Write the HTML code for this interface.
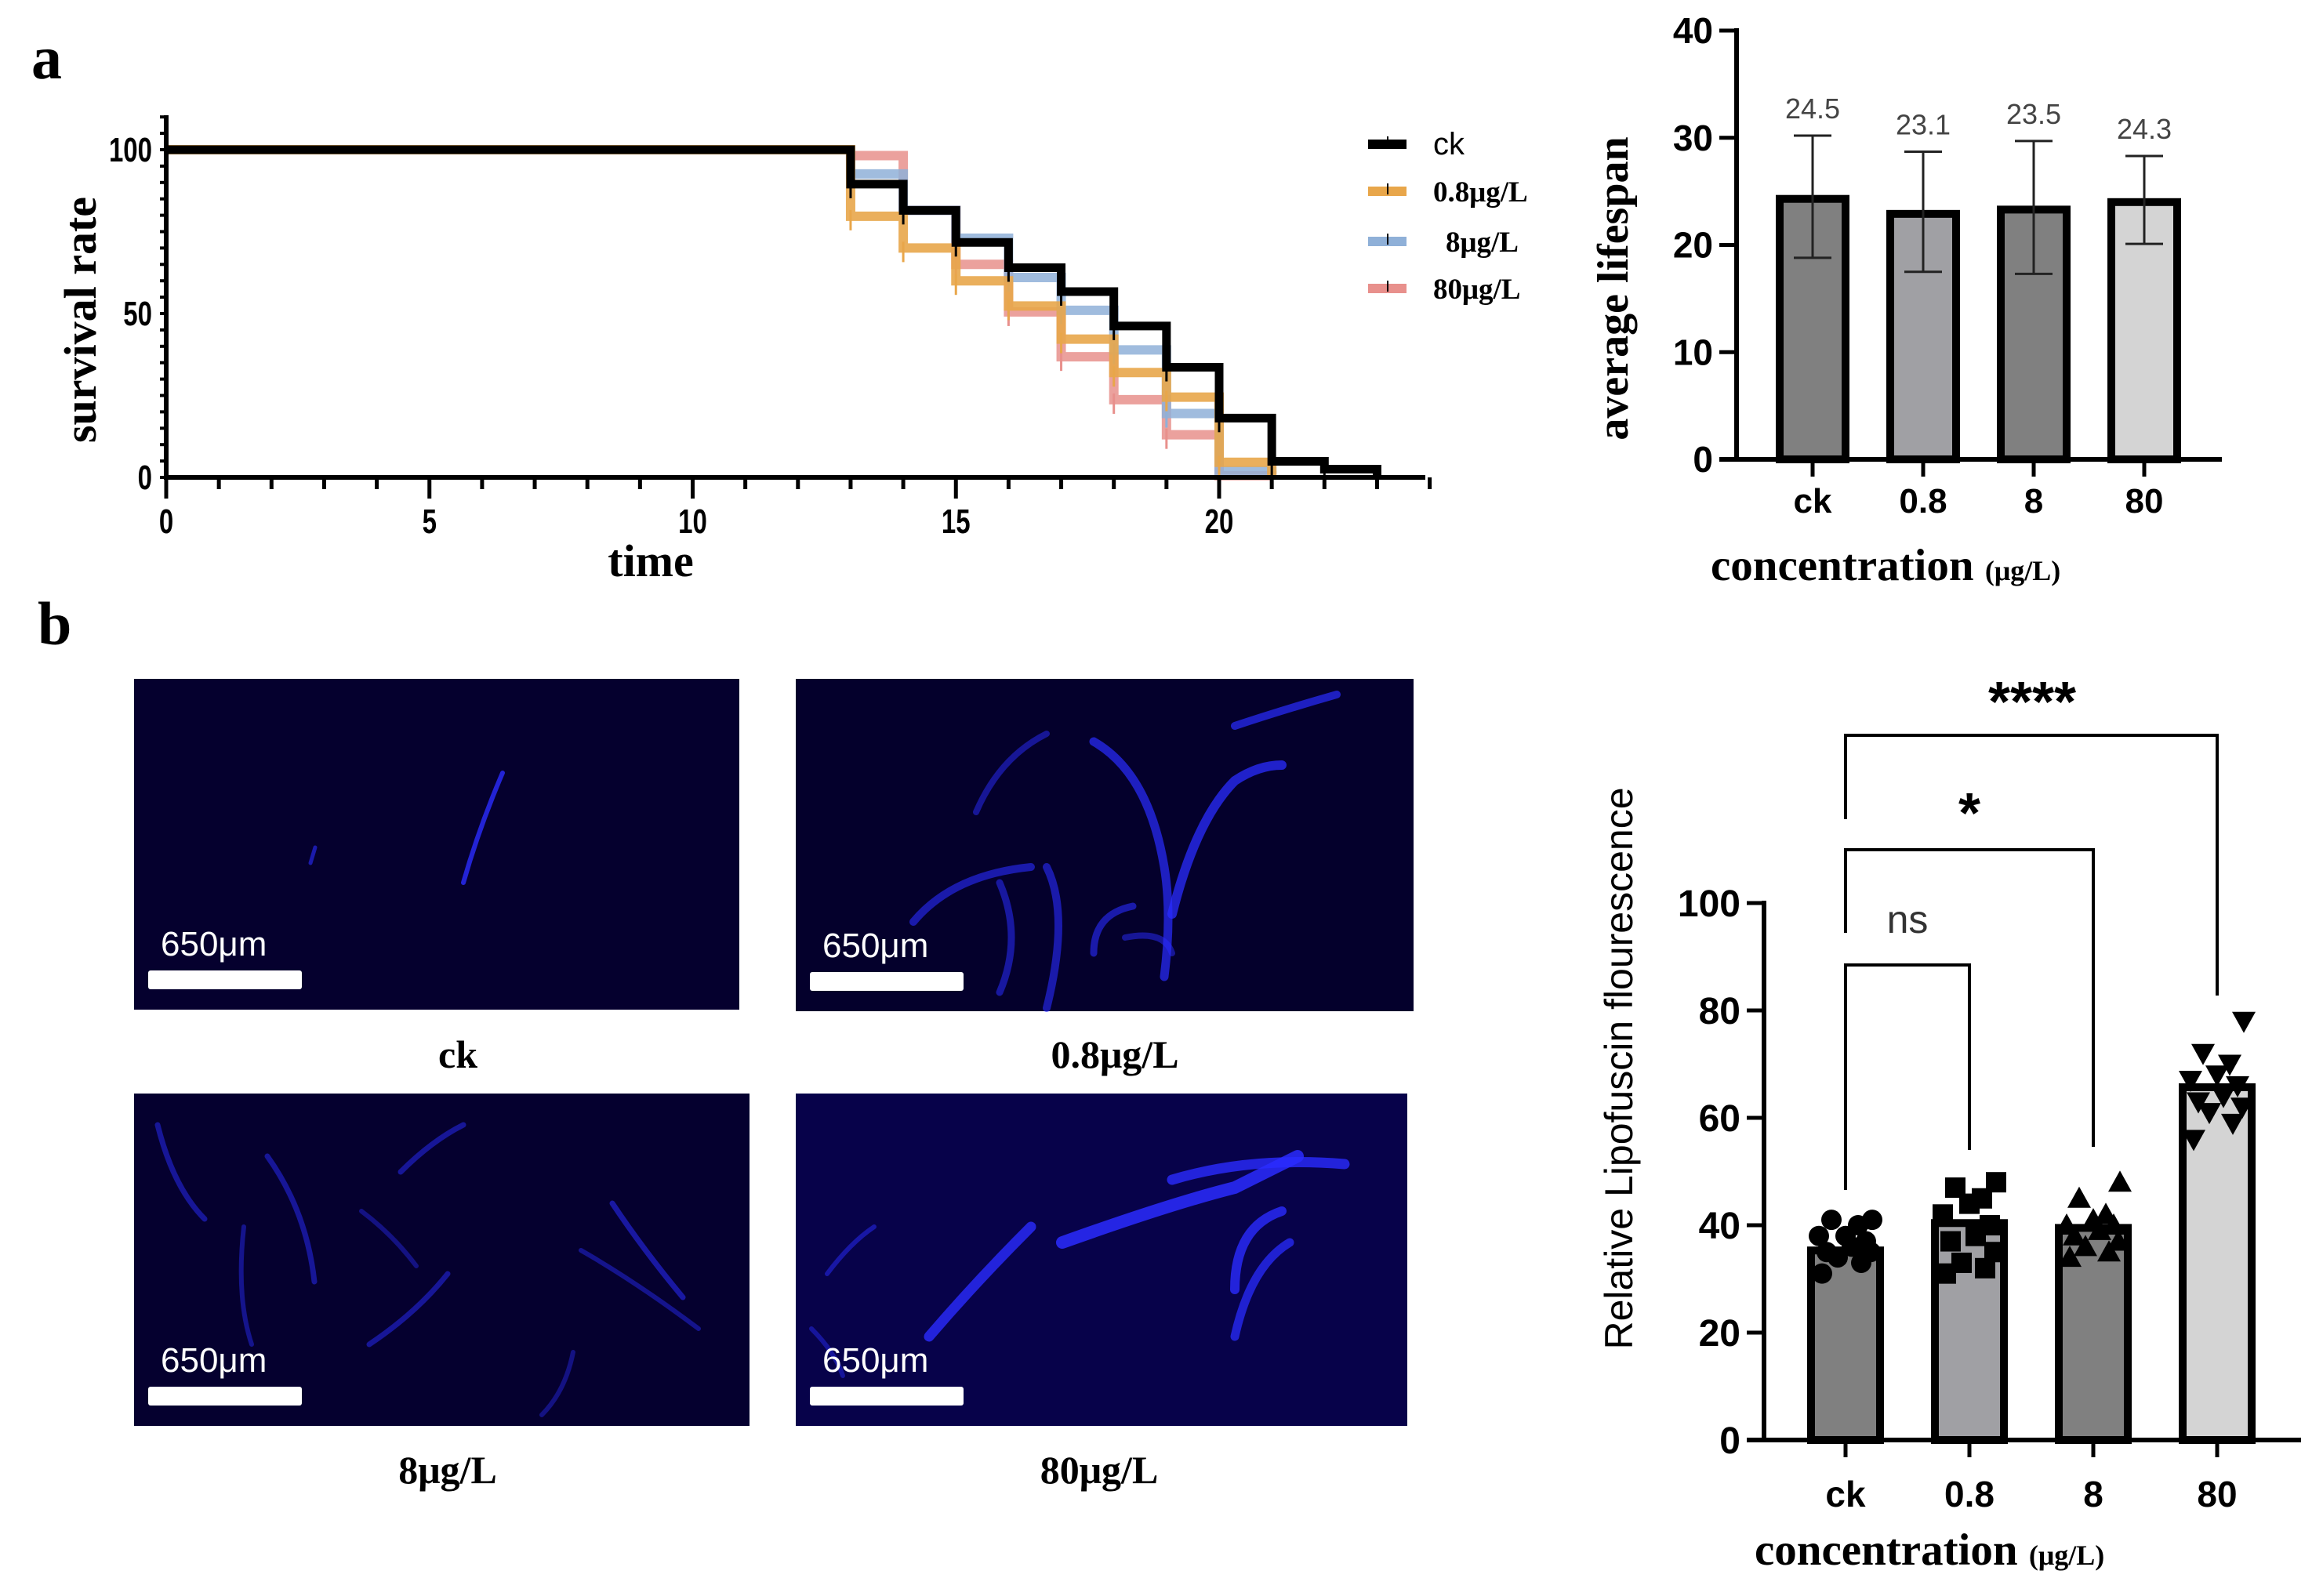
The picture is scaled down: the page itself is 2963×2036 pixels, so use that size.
<!DOCTYPE html>
<html><head><meta charset="utf-8"><style>
html,body{margin:0;padding:0;background:#fff;}
svg{display:block;}
.serif{font-family:"Liberation Serif",serif;font-weight:bold;}
.sans{font-family:"Liberation Sans",sans-serif;font-weight:bold;}
</style></head><body>
<svg id="fig" width="2963" height="2036" viewBox="0 0 2963 2036" xmlns="http://www.w3.org/2000/svg">
<text x="40" y="100" class="serif" font-size="78">a</text>
<text x="48" y="822" class="serif" font-size="78">b</text>
<g id="surv"></g>
<g id="life"></g>
<g id="lipo"></g>
<g id="imgs"></g>
</svg>
<script>
// ---------- survival data ----------
const survTimes = [13,14,15,16,17,18,19,20,21,22];
const survCk  = [89.5,81.5,71.7,64,56.7,46.2,33.6,18.1,4.9,2.5];
const surv08  = [79.7,70,60,52.3,42.2,32,24.5,4.6];
const surv8   = [92.6,81.5,73,61,51,38.9,19.5,2];
const surv80  = [98.2,81.5,65,50.5,36.8,23.7,13,0.5];
const survXTicks = [0,5,10,15,20];
const survYTicks = [0,50,100];
// ---------- lifespan data ----------
const lifeCats = ["ck","0.8","8","80"];
const lifeMeans = [24.5,23.1,23.5,24.3];
const lifeHeights = [24.3,22.9,23.3,24.0];
const lifeErrHi = [30.2,28.7,29.7,28.3];
const lifeErrLo = [18.8,17.5,17.3,20.1];
const lifeYTicks = [0,10,20,30,40];
// ---------- lipofuscin data ----------
const lipoCats = ["ck","0.8","8","80"];
const lipoMeans = [35.3,40.4,39.5,65.7];
const lipoPts = [
 [31,33,34,35,35,36,37,38,38,40,41,41],
 [31,32,33,35,37,38,40,42,44,45,47,48],
 [34,35,36,37,38,39,40,40,41,42,45,48],
 [56,59,61,62,63,64,66,67,68,70,72,78]];
const lipoYTicks = [0,20,40,60,80,100];

const NS="http://www.w3.org/2000/svg";
function mk(parent,tag,attrs,text){const e=document.createElementNS(NS,tag);for(const k in attrs)e.setAttribute(k,attrs[k]);if(text!==undefined)e.textContent=text;parent.appendChild(e);return e;}

// ===== Survival chart =====
(function(){
 const g=document.getElementById('surv');
 const sx=t=>212+t*(1555-212)/20, sy=v=>609-v*(609-191)/100;
 function series(vals,col,w,op,name){
  let d=`M${sx(0)},${sy(100)} L${sx(13)},${sy(100)}`;
  vals.forEach((v,i)=>{const t=13+i;d+=` L${sx(t)},${sy(v)} L${sx(t+1)},${sy(v)}`;});
  d+=` L${sx(13+vals.length)},${sy(0)}`;
  const p=mk(g,'path',{d:d,fill:'none',stroke:col,'stroke-width':w,'stroke-opacity':op});
  
  
  vals.forEach((v,i)=>{const t=13+i;const e=mk(g,'line',{x1:sx(t),x2:sx(t),y1:sy(v)-8,y2:sy(v)+18,stroke:col,'stroke-width':3});
   
   });
 }
 series(surv80,'#e8908c',12,0.85,'series-80');
 series(surv8,'#8fb0d8',12,0.85,'series-8');
 series(surv08,'#e8a64a',12,0.9,'series-0-8');
 series(survCk,'#000',11,1,'series-ck');
 mk(g,'line',{x1:212,y1:147,x2:212,y2:612,stroke:'#000','stroke-width':6});
 mk(g,'line',{x1:209,y1:609,x2:1818,y2:609,stroke:'#000','stroke-width':6});
 for(let t=0;t<=24;t++){const maj=t%5==0;mk(g,'line',{x1:sx(t),x2:sx(t),y1:609,y2:maj?636:624,stroke:'#000','stroke-width':5});}
 for(let v=0;v<=110;v+=5){mk(g,'line',{x1:204,x2:212,y1:sy(v),y2:sy(v),stroke:'#000','stroke-width':4});}
 survXTicks.forEach(t=>{const e=mk(g,'text',{x:sx(t),y:680,'text-anchor':'middle','font-size':44,class:'sans',transform:`translate(${sx(t)},0) scale(0.75,1) translate(${-sx(t)},0)`},String(t));
  
  });
 survYTicks.forEach(v=>{const e=mk(g,'text',{x:194,y:sy(v)+15,'text-anchor':'end','font-size':44,class:'sans',transform:`translate(194,0) scale(0.75,1) translate(-194,0)`},String(v));
  
  });
 let e=mk(g,'text',{x:830,y:735,'text-anchor':'middle','font-size':58,class:'serif'},'time');
 
 e=mk(g,'text',{x:0,y:0,'text-anchor':'middle','font-size':58,class:'serif',transform:'translate(122,408) rotate(-90)'},'survival rate');
 
 const leg=[['ck','#000',184],['0.8μg/L','#e8a64a',244],['8μg/L','#8fb0d8',308],['80μg/L','#e8908c',368]];
 leg.forEach(l=>{
  const gg=mk(g,'g',{});
  
  
  mk(gg,'line',{x1:1745,x2:1794,y1:l[2],y2:l[2],stroke:l[1],'stroke-width':12});
  mk(gg,'line',{x1:1770,x2:1770,y1:l[2]-10,y2:l[2]+4,stroke:'#000','stroke-width':2});
  if(l[0]==='ck') mk(gg,'text',{x:1828,y:l[2]+13,'font-size':40,'font-family':'Liberation Sans, sans-serif'},l[0]);
  else mk(gg,'text',{x:l[0]==='8μg/L'?1844:1828,y:l[2]+13,'font-size':37,class:'serif'},l[0]);
 });
})();

// ===== Lifespan chart =====
(function(){
 const g=document.getElementById('life');
 const x0=2215, y0=586, ppu=(586-39)/40;
 const sy=v=>y0-v*ppu, cx=i=>2312+i*141;
 const fills=['#808080','#a0a0a4','#808080','#d4d4d4'];
 lifeCats.forEach((c,i)=>{
  const r=mk(g,'rect',{x:cx(i)-42,y:sy(lifeHeights[i]),width:84,height:y0-sy(lifeHeights[i]),fill:fills[i],stroke:'#000','stroke-width':10});
  
  
  const eb=mk(g,'path',{d:`M${cx(i)},${sy(lifeErrHi[i])} V${sy(lifeErrLo[i])} M${cx(i)-24},${sy(lifeErrHi[i])} h48 M${cx(i)-24},${sy(lifeErrLo[i])} h48`,stroke:'#222','stroke-width':3,fill:'none'});
  
  
  const t=mk(g,'text',{x:cx(i),y:sy(lifeErrHi[i])-22,'text-anchor':'middle','font-size':36,'font-family':'Liberation Sans, sans-serif',fill:'#444'},lifeMeans[i].toFixed(1));
  
  
  mk(g,'line',{x1:cx(i),x2:cx(i),y1:y0,y2:y0+22,stroke:'#000','stroke-width':5});
  const tl=mk(g,'text',{x:cx(i),y:654,'text-anchor':'middle','font-size':44,class:'sans'},c);
  
  
 });
 mk(g,'line',{x1:x0,y1:36,x2:x0,y2:y0+3,stroke:'#000','stroke-width':6});
 mk(g,'line',{x1:x0-22,y1:y0,x2:2834,y2:y0,stroke:'#000','stroke-width':6});
 lifeYTicks.forEach(v=>{mk(g,'line',{x1:x0-22,x2:x0,y1:sy(v),y2:sy(v),stroke:'#000','stroke-width':5});
  const t=mk(g,'text',{x:x0-30,y:sy(v)+16,'text-anchor':'end','font-size':46,class:'sans'},String(v));
  
  });
 let e=mk(g,'text',{x:0,y:0,'text-anchor':'middle','font-size':56,class:'serif',transform:'translate(2076,368) rotate(-90)'},'average lifespan');
 
 e=mk(g,'text',{x:2182,y:740,'font-size':57,class:'serif'});
 e.innerHTML='concentration <tspan font-size="36">(μg/L)</tspan>';
 
})();

// ===== Lipofuscin chart =====
(function(){
 const g=document.getElementById('lipo');
 const x0=2250, y0=1837, ppu=(1837-1152)/100;
 const sy=v=>y0-v*ppu, cx=i=>2354+i*158;
 const fills=['#808080','#a0a0a4','#808080','#d4d4d4'];
 const jit=[-30,20,-10,32,-24,8,26,-34,0,16,-18,34];
 lipoCats.forEach((c,i)=>{
  const r=mk(g,'rect',{x:cx(i)-44,y:sy(lipoMeans[i]),width:88,height:y0-sy(lipoMeans[i]),fill:fills[i],stroke:'#000','stroke-width':10});
  
  
  lipoPts[i].forEach((v,k)=>{
   const px=cx(i)+jit[k], py=sy(v); let p;
   if(i===0) p=mk(g,'circle',{cx:px,cy:py,r:13,fill:'#000'});
   else if(i===1) p=mk(g,'rect',{x:px-13,y:py-13,width:26,height:26,fill:'#000'});
   else if(i===2) p=mk(g,'path',{d:`M${px},${py-15} L${px+15},${py+12} L${px-15},${py+12}Z`,fill:'#000'});
   else p=mk(g,'path',{d:`M${px},${py+15} L${px+15},${py-12} L${px-15},${py-12}Z`,fill:'#000'});
   
   
  });
  mk(g,'line',{x1:cx(i),x2:cx(i),y1:y0,y2:y0+22,stroke:'#000','stroke-width':5});
  const tl=mk(g,'text',{x:cx(i),y:1922,'text-anchor':'middle','font-size':46,class:'sans'},c);
  
  
 });
 mk(g,'line',{x1:x0,y1:1149,x2:x0,y2:y0+3,stroke:'#000','stroke-width':6});
 mk(g,'line',{x1:x0-22,y1:y0,x2:2935,y2:y0,stroke:'#000','stroke-width':6});
 lipoYTicks.forEach(v=>{mk(g,'line',{x1:x0-22,x2:x0,y1:sy(v),y2:sy(v),stroke:'#000','stroke-width':5});
  const t=mk(g,'text',{x:x0-30,y:sy(v)+17,'text-anchor':'end','font-size':48,class:'sans'},String(v));
  
  });
 const br=[[cx(0),cx(1),1231,1518,1467,'ns',1190,2433],[cx(0),cx(2),1084,1190,1463,'*',1062,2512],[cx(0),cx(3),938,1045,1270,'****',920,2592]];
 br.forEach(b=>{const p=mk(g,'path',{d:`M${b[0]},${b[3]} V${b[2]} H${b[1]} V${b[4]}`,fill:'none',stroke:'#000','stroke-width':4});
  
  
  const t=mk(g,'text',{x:b[7],y:b[6],'text-anchor':'middle','font-size':b[5]==='ns'?50:72,'font-family':'Liberation Sans, sans-serif','font-weight':b[5]==='ns'?'normal':'bold',fill:b[5]==='ns'?'#333':'#000'},b[5]);
  
  });
 let e=mk(g,'text',{x:0,y:0,'text-anchor':'middle','font-size':50,'font-family':'Liberation Sans, sans-serif',transform:'translate(2082,1363) rotate(-90)'},'Relative Lipofuscin flourescence');
 
 e=mk(g,'text',{x:2238,y:1996,'font-size':57,class:'serif'});
 e.innerHTML='concentration <tspan font-size="36">(μg/L)</tspan>';
 
})();

// ===== Fluorescence images =====
(function(){
 const g=document.getElementById('imgs');
 const panels=[
  {x:171,y:866,w:772,h:422,bg:'#05002e',lab:'ck',lx:584,ly:1362,worms:[
   ['M420,260 Q440,190 470,120',6,0.8],['M225,235 l6,-20',5,0.6]]},
  {x:1015,y:866,w:788,h:424,bg:'#04002c',lab:'0.8μg/L',lx:1422,ly:1362,worms:[
   ['M380,80 Q450,120 470,240 Q480,300 470,380',11,0.7],['M480,300 Q510,180 560,130 Q590,110 620,110',12,0.75],
   ['M150,310 Q200,250 300,240',10,0.6],['M320,240 Q350,300 320,420',10,0.6],['M380,350 Q380,300 430,290',9,0.6],
   ['M560,60 Q620,40 690,20',10,0.7],['M260,400 Q290,330 260,260',9,0.55],['M230,170 Q260,100 320,70',8,0.5],
   ['M420,330 Q470,320 480,350',8,0.5]]},
  {x:171,y:1395,w:785,h:424,bg:'#05002f',lab:'8μg/L',lx:571,ly:1892,worms:[
   ['M30,40 Q50,120 90,160',7,0.5],['M170,80 Q220,150 230,240',7,0.5],['M140,170 Q130,260 150,320',6,0.45],
   ['M340,100 Q380,60 420,40',7,0.5],['M300,320 Q360,280 400,230',7,0.5],['M610,140 Q650,200 700,260',7,0.55],
   ['M570,200 Q640,240 720,300',6,0.45],['M560,330 Q550,380 520,410',6,0.4],['M290,150 Q330,180 360,220',6,0.4]]},
  {x:1015,y:1395,w:780,h:424,bg:'#07024a',lab:'80μg/L',lx:1402,ly:1892,worms:[
   ['M340,190 Q480,140 560,120 Q600,100 640,80',16,0.85],['M480,110 Q580,80 700,90',13,0.8],
   ['M170,310 Q230,240 300,170',13,0.8],['M560,250 Q560,170 620,150',12,0.8],['M560,310 Q580,220 630,190',11,0.75],
   ['M40,230 Q70,190 100,170',6,0.5],['M20,300 Q50,330 60,360',6,0.45]]}];
 panels.forEach(p=>{
  const gg=mk(g,'g',{transform:`translate(${p.x},${p.y})`});
  
  
  mk(gg,'rect',{x:0,y:0,width:p.w,height:p.h,fill:p.bg});
  p.worms.forEach(w=>mk(gg,'path',{d:w[0],fill:'none',stroke:'#2a2cff','stroke-width':w[1],'stroke-linecap':'round','stroke-opacity':w[2]}));
  const sb=mk(gg,'rect',{x:18,y:p.h-50,width:196,height:24,rx:3,fill:'#fff'});
  
  
  const st=mk(gg,'text',{x:34,y:p.h-69,'font-size':44,'font-family':'Liberation Sans, sans-serif',fill:'#fff'},'650μm');
  
  
  const lt=mk(g,'text',{x:p.lx,y:p.ly,'text-anchor':'middle','font-size':50,class:'serif'},p.lab);
  
  
 });
})();
</script>
</body></html>
